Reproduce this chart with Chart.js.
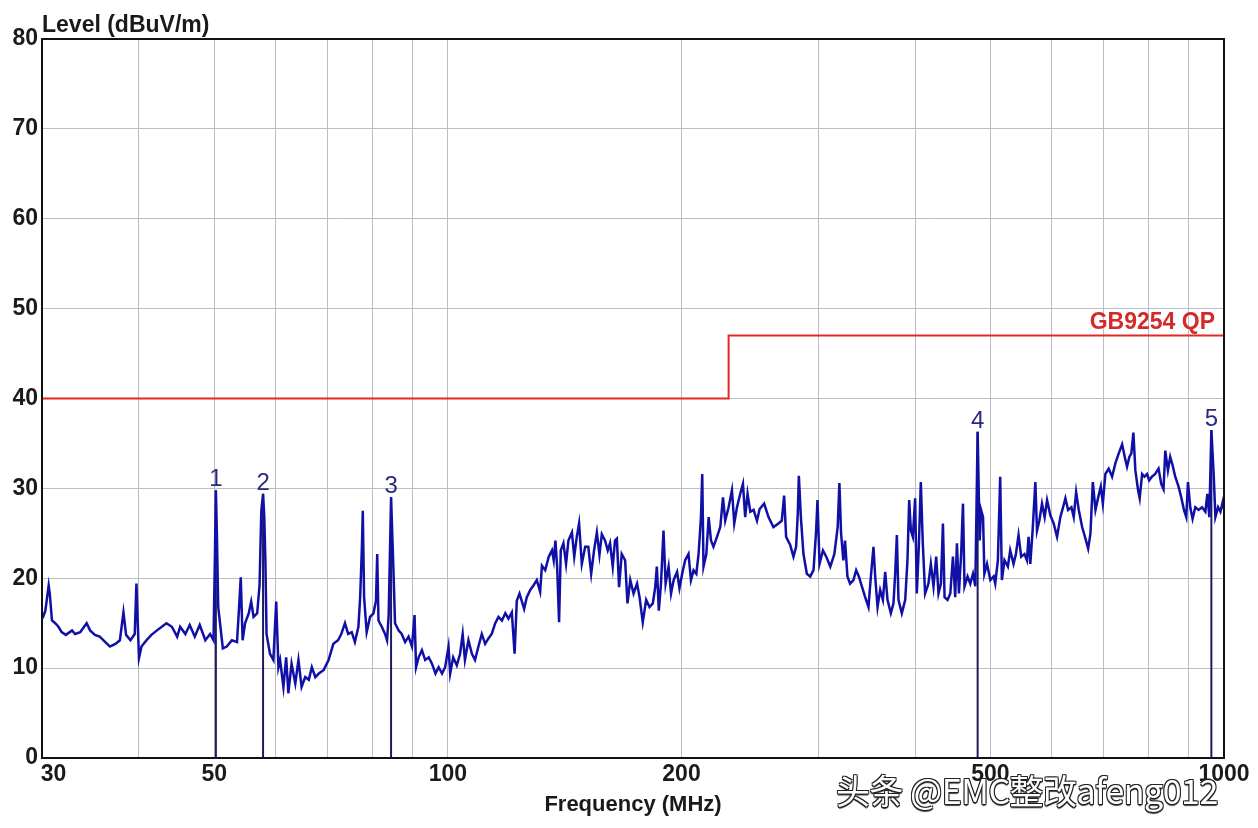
<!DOCTYPE html>
<html>
<head>
<meta charset="utf-8">
<script src="https://cdn.jsdelivr.net/npm/chart.js@4.4.1/dist/chart.umd.min.js"></script>
<style>
  html, body { margin: 0; padding: 0; background: #fff; }
  #wrap { position: relative; width: 1258px; height: 828px; }
  #mark {
    position: absolute; left: 836px; top: 765px; white-space: nowrap;
    font: 34px "Noto Sans CJK SC", sans-serif; color: #fff; letter-spacing: -0.5px;
    text-shadow: 1px 1px 0 #222, -1px -1px 0 #222, 1px -1px 0 #222, -1px 1px 0 #222, 0 2px 1px #444;
  }
</style>
</head>
<body>
<div id="wrap">
  <canvas id="emi" width="1258" height="828"></canvas>
  <div id="mark">头条 @EMC整改afeng012</div>
</div>
<script>
// measured trace, MHz / dBuV/m
const freqMHz = [
  30.0, 30.1, 30.3, 30.6, 30.7, 30.9, 31.2, 31.5, 31.8, 32.2, 32.8, 33.1, 33.6, 34.25, 34.6, 35.1,
  35.6, 36.2, 36.7, 37.3, 37.8, 38.2, 38.5, 39.0, 39.5, 39.7, 40.0, 40.3, 40.9, 41.5, 42.2, 42.8,
  43.4, 44.1, 44.8, 45.2, 45.9, 46.5, 47.2, 47.9, 48.7, 49.4, 49.9, 50.1, 50.25, 50.4, 50.6, 51.3,
  51.9, 52.7, 53.5, 53.8, 54.1, 54.4, 54.8, 55.4, 55.8, 56.2, 56.8, 57.2, 57.5, 57.8, 58.0, 58.2,
  58.4, 59.0, 59.6, 60.1, 60.5,
  60.8, 61.4, 61.9, 62.3, 62.9, 63.6, 64.2, 64.8, 65.5, 66.2, 66.8, 67.5, 68.2, 69.2, 70.2, 71.2,
  72.2, 72.9, 73.7, 74.4, 75.2, 75.9, 76.7, 77.1, 77.5, 77.7, 78.0, 78.6, 79.4, 80.2, 80.8, 81.1,
  81.4, 82.2, 83.0, 83.5, 83.9, 84.5, 85.1, 85.5, 86.4, 87.2, 88.1, 89.0, 89.9, 90.6, 91.0, 91.7,
  92.6, 93.5, 94.5, 95.4, 96.4, 97.3, 98.3, 99.2, 100.2, 100.7, 101.6, 102.7, 103.7, 104.5, 105.2, 106.3,
  107.4, 108.4, 109.5, 110.6, 111.7, 112.8, 113.9, 115.1, 116.2, 117.4, 118.6, 119.7, 120.9, 121.9, 122.7, 123.7,
  125.4, 126.4, 127.7, 128.9, 130.2, 131.5, 132.2, 133.5, 134.9, 136.2, 136.9, 137.6, 138.3, 139.1, 139.8, 140.9,
  142.0, 143.0, 144.5, 145.5, 146.6, 147.6, 148.8, 150.3, 151.7, 153.0, 154.3, 155.6, 156.8, 157.9, 159.4, 160.7,
  161.8, 163.1, 164.2, 165.1, 166.2, 167.5, 169.2, 170.4, 171.8, 173.5, 175.3, 176.6, 178.3, 180.1, 181.9, 183.7,
  185.0, 185.9, 187.0, 188.2, 189.6, 190.8, 192.5, 193.9, 195.4, 197.4, 198.8, 200.4, 202.2, 204.2, 205.7, 207.3,
  209.0, 210.4, 211.9, 212.7, 213.5, 215.3, 216.8, 218.3, 219.9, 222.2, 224.4, 226.2, 227.7, 230.0, 232.3, 233.9,
  235.8, 238.1, 240.0, 241.6, 243.3, 245.3, 247.7, 250.2, 252.2,
  255.6, 258.9, 262.7, 266.6, 269.3, 271.2, 272.8, 276.1, 278.8, 281.0, 282.4, 283.3, 285.0, 287.2, 290.1, 293.0,
  295.9, 298.2, 299.4, 301.2, 304.3, 307.3, 311.0, 314.8, 317.9, 319.5, 321.1, 323.3, 324.9, 327.2, 329.8, 333.1,
  335.8, 338.5, 341.5, 344.9, 348.3, 350.8, 353.5, 355.3, 357.8, 360.6, 363.5, 366.0, 368.5, 372.2, 375.1, 377.0,
  378.9, 380.7, 384.5, 388.4, 391.0, 393.0, 395.0, 397.3, 400.0, 402.0, 404.4, 406.8, 409.2, 412.0, 416.1, 419.1,
  422.4, 425.8, 428.7, 431.8, 434.4, 436.5, 440.4, 444.0, 447.5, 450.5, 452.8, 455.5, 458.6, 461.0, 463.1, 467.3,
  471.1, 474.9, 478.2, 481.5, 484.4, 486.4, 489.3, 491.2, 495.1, 500.0, 504.9,
  507.3, 511.3, 514.8, 517.4, 521.4, 526.7, 530.3, 535.6, 539.4, 543.6, 547.9, 553.3, 557.3, 560.0, 562.9, 566.8,
  571.4, 574.2, 578.2, 582.8, 587.4, 591.6, 597.4, 603.3, 609.4, 615.4, 620.4, 624.7, 629.7, 635.9, 640.3, 644.9,
  650.0, 656.5, 663.0, 668.3, 672.9, 677.6, 683.0, 688.5, 693.9, 698.1, 703.3, 710.3, 717.5, 724.6, 731.8, 739.2,
  745.0, 750.0, 755.2, 759.7, 764.3, 768.8, 775.0, 778.7, 784.3, 789.7, 796.0, 801.0, 807.4, 815.4, 823.5, 830.1,
  835.8, 840.1, 846.7, 852.5, 858.4, 865.3, 873.9, 880.9, 888.0, 894.1, 898.6, 904.8, 911.0, 918.4, 927.4, 936.9,
  946.2, 951.8, 957.5, 963.2, 969.8, 974.8, 982.6, 989.4, 996.2, 1000.0
];
const levelDb = [
  15.5, 15.7, 16.4, 19.2, 18.3, 15.3, 15.0, 14.6, 14.0, 13.7, 14.2, 13.8, 14.0, 15.0, 14.2, 13.7,
  13.5, 12.9, 12.4, 12.7, 13.1, 16.2, 13.7, 13.1, 13.8, 19.4, 11.1, 12.4, 13.1, 13.7, 14.2, 14.6,
  15.0, 14.6, 13.5, 14.6, 13.8, 14.8, 13.5, 14.8, 13.1, 13.8, 13.1, 22.0, 29.8, 25.0, 16.8, 12.2,
  12.4, 13.1, 12.9, 16.4, 20.1, 13.1, 15.0, 16.1, 17.4, 15.7, 16.1, 19.2, 27.5, 29.4, 27.0, 22.0,
  13.8, 11.6, 10.9, 17.4, 10.1,
  10.9, 7.9, 11.2, 7.2, 10.5, 8.3, 10.9, 7.9, 9.0, 8.7, 10.1, 9.0, 9.4, 9.8, 10.9, 12.7,
  13.1, 13.8, 15.0, 13.8, 14.0, 12.9, 14.6, 17.9, 23.5, 27.5, 17.9, 14.0, 15.7, 16.1, 17.5, 22.7,
  15.3, 14.6, 13.8, 13.1, 15.9, 29.0, 20.9, 15.0, 14.2, 13.8, 12.9, 13.5, 12.4, 15.9, 10.1, 11.2,
  12.0, 10.9, 11.2, 10.5, 9.4, 10.1, 9.4, 10.1, 12.4, 9.4, 11.2, 10.3, 11.6, 13.8, 10.9, 13.1,
  11.6, 10.9, 12.4, 13.8, 12.7, 13.3, 13.8, 15.0, 15.7, 15.3, 16.1, 15.5, 16.2, 11.6, 17.5, 18.3,
  16.6, 17.9, 18.7, 19.2, 19.8, 18.5, 21.4, 20.9, 22.4, 23.1, 22.0, 24.2, 21.3, 15.1, 23.1, 23.9,
  21.6, 24.2, 25.1, 22.4, 24.6, 26.1, 21.6, 23.5, 23.5, 20.5, 23.1, 25.1, 22.6, 24.9, 24.2, 23.1,
  23.9, 21.3, 24.2, 24.4, 19.0, 22.7, 22.0, 17.2, 19.8, 18.3, 19.4, 17.9, 15.1, 17.6, 16.8, 17.2,
  19.0, 21.3, 16.4, 19.4, 25.3, 19.4, 21.3, 18.3, 19.8, 20.7, 18.9, 20.5, 22.0, 22.7, 19.8, 20.9,
  20.5, 22.7, 26.8, 31.6, 21.3, 22.7, 26.8, 24.2, 23.5, 24.6, 25.7, 29.0, 26.4, 27.9, 29.8, 26.1,
  27.9, 29.4, 30.5, 26.8, 29.4, 27.4, 27.6, 26.4, 27.7,
  28.3, 26.8, 25.7, 26.1, 26.4, 29.2, 24.6, 23.7, 22.4, 23.5, 27.2, 31.4, 26.8, 22.7, 20.5, 20.2,
  20.9, 25.3, 28.7, 21.6, 23.1, 22.4, 21.3, 22.7, 25.7, 30.6, 25.0, 22.0, 24.2, 20.2, 19.4, 19.8,
  20.9, 20.2, 19.1, 17.9, 16.8, 20.2, 23.5, 20.2, 16.8, 18.7, 17.6, 20.7, 17.6, 16.1, 17.2, 20.5,
  24.8, 17.6, 16.1, 17.6, 22.0, 28.7, 25.3, 24.6, 28.9, 18.3, 23.5, 30.7, 23.9, 18.3, 19.4, 21.6,
  19.1, 22.4, 18.3, 19.4, 26.1, 17.9, 17.6, 18.3, 22.4, 17.9, 23.9, 18.3, 22.9, 28.3, 19.1, 20.2,
  19.4, 20.5, 19.1, 36.3, 24.2, 27.6, 26.8, 20.5, 21.6, 19.8, 20.2,
  19.4, 22.0, 31.3, 19.8, 22.0, 21.3, 23.1, 21.6, 22.7, 24.8, 22.4, 22.7, 22.0, 24.6, 21.6, 25.3,
  30.7, 25.3, 26.4, 28.3, 26.8, 28.7, 27.0, 26.1, 24.6, 26.8, 27.9, 28.9, 27.6, 27.9, 26.8, 29.6,
  27.6, 25.7, 24.4, 23.3, 25.0, 30.7, 27.6, 29.0, 30.2, 28.3, 31.6, 32.2, 31.3, 32.8, 33.9, 34.9,
  33.5, 32.4, 33.5, 33.9, 36.2, 32.0, 29.8, 28.9, 31.6, 31.3, 31.6, 30.9, 31.3, 31.6, 32.2, 30.5,
  29.9, 34.2, 32.0, 33.5, 32.6, 31.3, 30.2, 29.0, 27.6, 26.8, 30.7, 27.9, 26.6, 27.9, 27.6, 27.9,
  27.4, 29.4, 26.8, 36.5, 31.6, 26.8, 27.9, 27.4, 28.5, 27.7
];

// peak markers
const markerNames = ['1', '2', '3', '4', '5'];
const markerFreq = [50.25, 57.8, 84.5, 481.5, 963.2];
const markerLevel = [29.8, 29.4, 29.0, 36.3, 36.5];

// limit line
const limitName = 'GB9254 QP';
const limitFreq = [30, 230, 230, 1000];
const limitLevel = [40, 40, 47, 47];

// axes
const xGridTicks = [30, 40, 50, 60, 70, 80, 90, 100, 200, 300, 400, 500, 600, 700, 800, 900, 1000];
const xTickLabels = ['\u200330', '', '50', '', '', '', '', '100', '200', '', '', '500', '', '', '', '', '1000'];
const yMin = 0, yMax = 80, yStep = 10;
const yTitle = 'Level (dBuV/m)';
const xTitle = 'Frequency (MHz)';

const FONT = '"Liberation Sans", Arial, sans-serif';
Chart.defaults.font.family = FONT;

const annotate = {
  id: 'annotate',
  afterDatasetsDraw(chart) {
    const { ctx, chartArea, scales: { x, y } } = chart;
    ctx.save();
    ctx.fillStyle = '#2a2a7c';
    ctx.font = '24px ' + FONT;
    ctx.textAlign = 'center';
    ctx.textBaseline = 'alphabetic';
    markerFreq.forEach((f, i) => {
      ctx.fillText(markerNames[i], x.getPixelForValue(f), y.getPixelForValue(markerLevel[i]) - 4);
    });
    ctx.fillStyle = '#d42a2a';
    ctx.font = 'bold 23px ' + FONT;
    ctx.textAlign = 'right';
    ctx.fillText(limitName, chartArea.right - 9, y.getPixelForValue(limitLevel[limitLevel.length - 1]) - 7);
    ctx.restore();
  },
  afterDraw(chart) {
    const { ctx, chartArea: a } = chart;
    ctx.save();
    ctx.strokeStyle = '#111';
    ctx.lineWidth = 2;
    ctx.strokeRect(a.left, a.top, a.right - a.left, a.bottom - a.top);
    ctx.fillStyle = '#1a1a1a';
    ctx.font = 'bold 23px ' + FONT;
    ctx.textAlign = 'left';
    ctx.textBaseline = 'alphabetic';
    ctx.fillText(yTitle, a.left, a.top - 7);
    ctx.restore();
  },
};

const markerSets = markerFreq.map((f, i) => ({
  data: [{ x: f, y: 0 }, { x: f, y: markerLevel[i] }],
  borderColor: '#1c1c5c',
  borderWidth: 2,
  pointRadius: 0,
}));

new Chart(document.getElementById('emi'), {
  type: 'line',
  data: {
    datasets: [
      {
        data: freqMHz.map((f, i) => ({ x: f, y: levelDb[i] })),
        borderColor: '#1010a6',
        borderWidth: 2.5,
        pointRadius: 0,
        tension: 0,
      },
      ...markerSets,
      {
        data: limitFreq.map((f, i) => ({ x: f, y: limitLevel[i] })),
        borderColor: '#e02828',
        borderWidth: 2,
        pointRadius: 0,
      },
    ],
  },
  options: {
    responsive: false,
    devicePixelRatio: 1,
    animation: false,
    layout: { padding: { top: 39, right: 34, left: 0, bottom: 0 } },
    plugins: { legend: { display: false }, tooltip: { enabled: false } },
    scales: {
      x: {
        type: 'logarithmic',
        min: 30,
        max: 1000,
        afterBuildTicks: (s) => { s.ticks = xGridTicks.map((v) => ({ value: v })); },
        afterFit: (s) => { s.height = 70; },
        ticks: {
          autoSkip: false,
          maxRotation: 0,
          minRotation: 0,
          padding: 3,
          color: '#1a1a1a',
          font: { size: 23, weight: 'bold' },
          callback: (v) => xTickLabels[xGridTicks.indexOf(v)] ?? '',
        },
        grid: { color: '#bcbcc6', lineWidth: 1, drawTicks: false },
        border: { display: false },
        title: {
          display: true,
          text: xTitle,
          color: '#1a1a1a',
          font: { size: 22, weight: 'bold' },
          padding: { top: 0, bottom: 10 },
        },
      },
      y: {
        min: yMin,
        max: yMax,
        afterFit: (s) => { s.width = 42; },
        ticks: {
          stepSize: yStep,
          padding: 4,
          color: '#1a1a1a',
          font: { size: 23, weight: 'bold' },
        },
        grid: { color: '#bcbcc6', lineWidth: 1, drawTicks: false },
        border: { display: false },
      },
    },
  },
  plugins: [annotate],
});
</script>
</body>
</html>
